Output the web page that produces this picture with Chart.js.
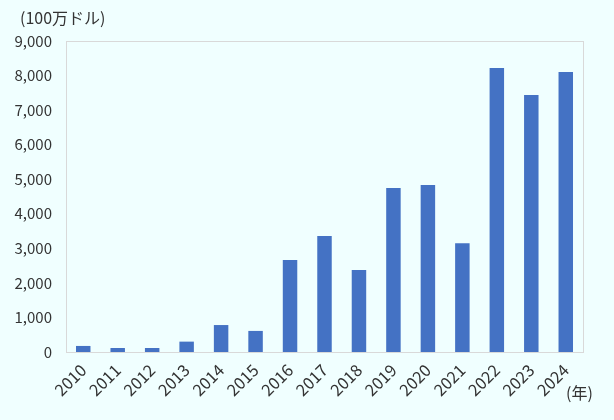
<!DOCTYPE html>
<html>
<head>
<meta charset="utf-8">
<script src="https://cdn.jsdelivr.net/npm/chart.js@4"></script>
<style>
  html, body { margin: 0; padding: 0; background: #F0FFFF; }
  #wrap { position: relative; width: 614px; height: 420px; }
</style>
</head>
<body>
<div id="wrap"><canvas id="barChart"></canvas></div>
<script>
// DATA
const years = ["2010","2011","2012","2013","2014","2015","2016","2017","2018","2019","2020","2021","2022","2023","2024"];
const values = [175, 115, 115, 300, 780, 610, 2660, 3360, 2370, 4745, 4830, 3150, 8220, 7435, 8100];
const yTicks = [0, 1000, 2000, 3000, 4000, 5000, 6000, 7000, 8000, 9000];
const unitLabel = "(100万ドル)";
const yearLabel = "(年)";

const FONT = "'Noto Sans CJK JP', 'Noto Sans', sans-serif";

// 枠線と単位ラベル
const framePlugin = {
  id: "frame",
  beforeDatasetsDraw(chart) {
    const { ctx, chartArea: a } = chart;
    ctx.save();
    ctx.strokeStyle = "#D9D9D9";
    ctx.lineWidth = 1;
    ctx.strokeRect(a.left + 0.5, a.top + 0.5, a.right - a.left, a.bottom - a.top);
    ctx.restore();
  },
  afterDraw(chart) {
    const { ctx } = chart;
    ctx.save();
    ctx.fillStyle = "#333";
    ctx.font = "16px " + FONT;
    ctx.textBaseline = "middle";
    ctx.textAlign = "left";
    ctx.fillText(unitLabel, 20, 18);
    ctx.fillText(yearLabel, 566, 393);
    ctx.restore();
  }
};

const ctx = document.getElementById("barChart").getContext("2d");
const chart = new Chart(ctx, {
  type: "bar",
  data: {
    labels: years,
    datasets: [{
      data: values,
      backgroundColor: "#4472C4",
      categoryPercentage: 1,
      barPercentage: 0.42
    }]
  },
  options: {
    animation: false,
    responsive: true,
    maintainAspectRatio: false,
    layout: { padding: { top: 41, right: 31, left: 0, bottom: 0 } },
    scales: {
      y: {
        min: 0,
        max: 9000,
        afterFit(scale) { scale.width = 66; },
        afterBuildTicks(scale) { scale.ticks = yTicks.map(v => ({ value: v })); },
        grid: { display: false, drawTicks: false },
        border: { display: false },
        ticks: {
          padding: 14,
          color: "#333",
          font: { family: FONT, size: 15 },
          callback: v => v.toLocaleString("en-US")
        }
      },
      x: {
        afterFit(scale) { scale.height = 68; },
        grid: { display: false, drawTicks: false },
        border: { display: false },
        ticks: {
          padding: 8,
          minRotation: 45,
          maxRotation: 45,
          autoSkip: false,
          color: "#333",
          font: { family: FONT, size: 16.5 }
        }
      }
    },
    plugins: {
      legend: { display: false },
      tooltip: { enabled: false }
    }
  },
  plugins: [framePlugin]
});
</script>
</body>
</html>
